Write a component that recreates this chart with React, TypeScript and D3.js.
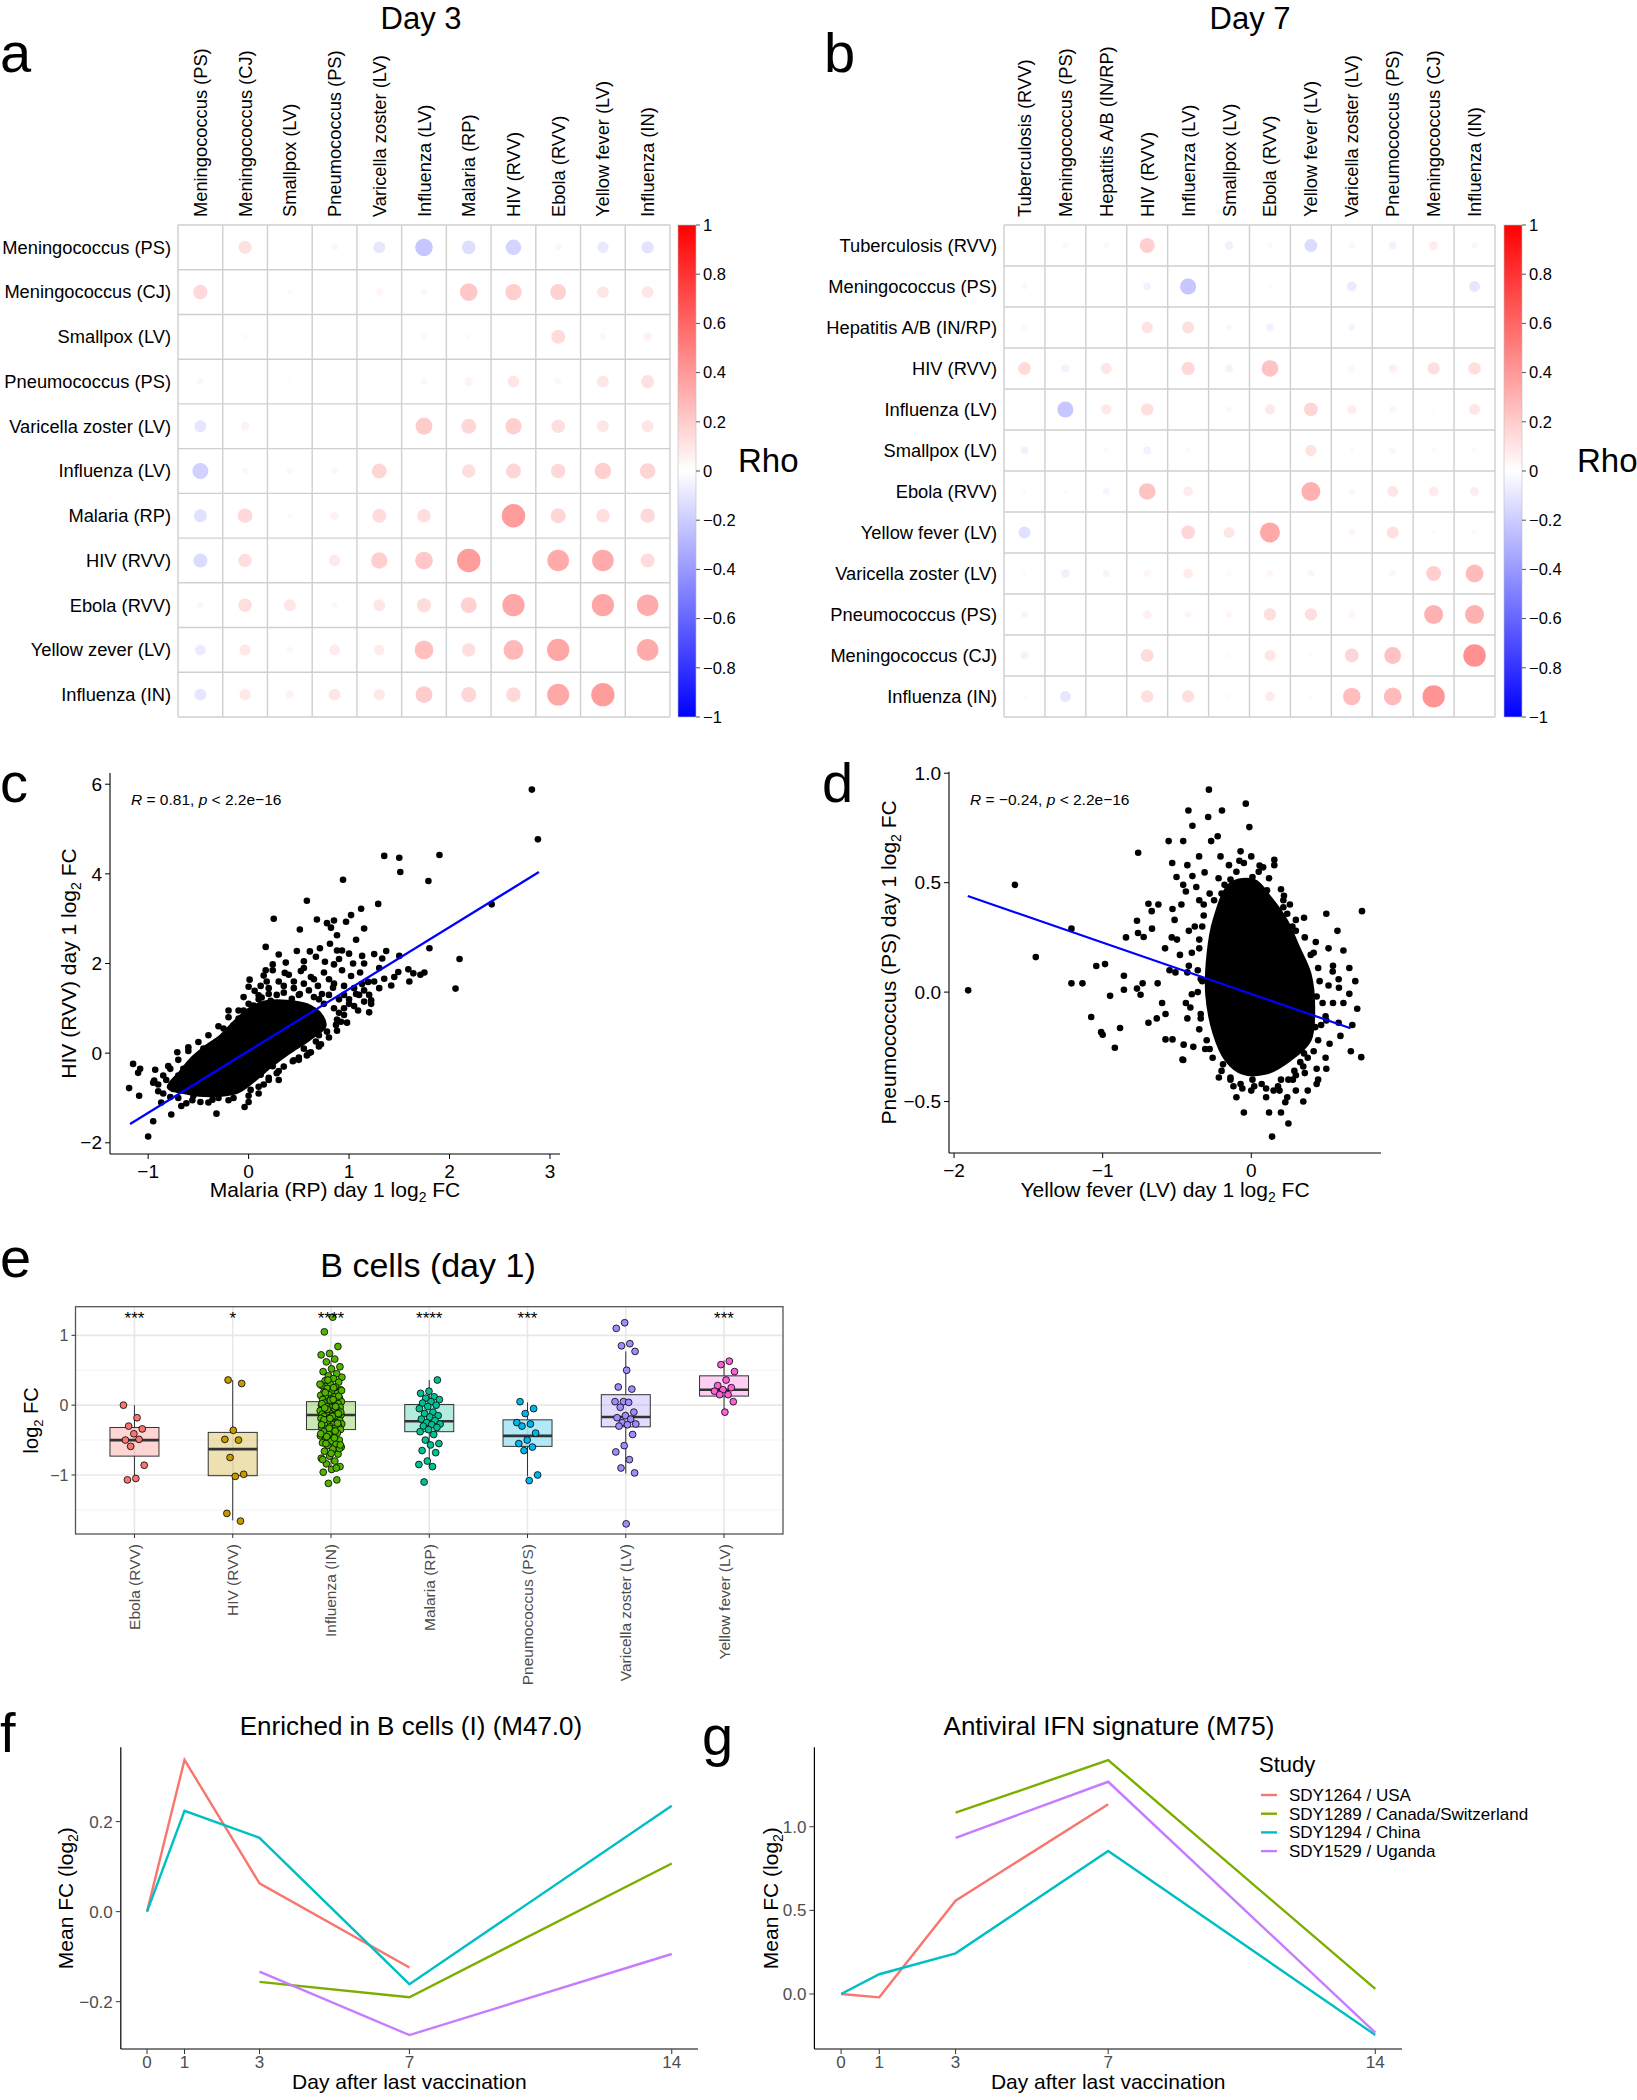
import React from "react";
import * as d3 from "d3";

const FONT = "'Liberation Sans', Arial, Helvetica, sans-serif";

// ---------------- Panel a / b : correlation matrices ----------------
const day3Labels = [
  "Meningococcus (PS)", "Meningococcus (CJ)", "Smallpox (LV)", "Pneumococcus (PS)",
  "Varicella zoster (LV)", "Influenza (LV)", "Malaria (RP)", "HIV (RVV)",
  "Ebola (RVV)", "Yellow fever (LV)", "Influenza (IN)",
];
const day3RowLabels = [
  "Meningococcus (PS)", "Meningococcus (CJ)", "Smallpox (LV)", "Pneumococcus (PS)",
  "Varicella zoster (LV)", "Influenza (LV)", "Malaria (RP)", "HIV (RVV)",
  "Ebola (RVV)", "Yellow zever (LV)", "Influenza (IN)",
];
const day3Rho = [
  [0.005, 0.12, 0.01, -0.03, -0.10, -0.22, -0.13, -0.17, -0.03, -0.09, -0.11],
  [0.15, 0.005, -0.02, 0.005, 0.04, 0.03, 0.22, 0.19, 0.18, 0.1, 0.1],
  [0.01, -0.02, 0.005, 0.01, 0.005, 0.03, -0.02, 0.005, 0.14, 0.03, 0.05],
  [-0.03, 0.005, -0.01, 0.005, 0.005, 0.03, 0.05, 0.1, 0.03, 0.1, 0.12],
  [-0.1, 0.05, 0.005, 0.005, 0.005, 0.2, 0.16, 0.19, 0.13, 0.1, 0.1],
  [-0.18, 0.03, 0.03, 0.03, 0.16, 0.005, 0.13, 0.16, 0.15, 0.19, 0.17],
  [-0.12, 0.15, -0.02, 0.05, 0.14, 0.13, 0.005, 0.39, 0.16, 0.13, 0.15],
  [-0.14, 0.13, 0.005, 0.09, 0.19, 0.22, 0.39, 0.005, 0.33, 0.33, 0.14],
  [-0.03, 0.13, 0.1, 0.03, 0.1, 0.14, 0.18, 0.35, 0.005, 0.35, 0.33],
  [-0.08, 0.09, 0.03, 0.08, 0.08, 0.25, 0.13, 0.28, 0.35, 0.005, 0.33],
  [-0.1, 0.09, 0.05, 0.1, 0.09, 0.2, 0.16, 0.15, 0.34, 0.385, 0.005],
];
const day7Labels = [
  "Tuberculosis (RVV)", "Meningococcus (PS)", "Hepatitis A/B (IN/RP)", "HIV (RVV)",
  "Influenza (LV)", "Smallpox (LV)", "Ebola (RVV)", "Yellow fever (LV)",
  "Varicella zoster (LV)", "Pneumococcus (PS)", "Meningococcus (CJ)", "Influenza (IN)",
];
const day7Rho = [
  [0.005, 0.03, 0.03, 0.19, 0.01, -0.06, 0.03, -0.14, 0.03, -0.05, 0.07, 0.03],
  [0.03, 0.005, 0.005, -0.05, -0.22, 0.01, -0.02, 0.01, -0.08, 0.005, 0.005, -0.1],
  [0.03, 0.005, 0.005, 0.11, 0.12, 0.03, -0.05, -0.01, -0.04, 0.005, -0.01, 0.01],
  [0.14, -0.05, 0.1, 0.005, 0.15, -0.05, 0.235, 0.01, 0.04, 0.06, 0.13, 0.13],
  [0.01, -0.22, 0.09, 0.13, 0.005, 0.03, 0.09, 0.16, 0.07, 0.04, -0.01, 0.1],
  [-0.05, 0.005, 0.02, -0.05, 0.02, 0.005, 0.01, 0.11, -0.02, 0.04, -0.02, -0.02],
  [0.02, -0.02, -0.04, 0.235, 0.08, 0.005, 0.005, 0.305, 0.03, 0.1, 0.08, 0.07],
  [-0.12, 0.005, 0.005, 0.005, 0.16, 0.1, 0.34, 0.005, 0.04, 0.12, 0.02, 0.02],
  [0.02, -0.06, -0.04, 0.04, 0.08, -0.02, 0.04, 0.04, 0.005, 0.04, 0.19, 0.27],
  [-0.04, 0.005, 0.005, 0.06, 0.04, 0.04, 0.13, 0.13, 0.04, 0.005, 0.305, 0.305],
  [0.06, 0.005, 0.005, 0.14, 0.01, -0.02, 0.1, 0.02, 0.16, 0.24, 0.005, 0.43],
  [0.02, -0.1, 0.005, 0.13, 0.13, -0.02, 0.08, 0.02, 0.26, 0.27, 0.42, 0.005],
];
const colorbarTicks = [1, 0.8, 0.6, 0.4, 0.2, 0, -0.2, -0.4, -0.6, -0.8, -1];

// ---------------- Panel c ----------------
const cXTicks = [-1, 0, 1, 2, 3];
const cYTicks = [-2, 0, 2, 4, 6];
const cFitX = [-1.18, 2.89];
const cFitY = [-1.58, 4.04];
const cCore: [number, number][] = [
  [-0.8, -0.76], [-0.68, -0.42], [-0.56, -0.1], [-0.42, 0.16], [-0.28, 0.38], [-0.15, 0.68],
  [0.0, 0.98], [0.16, 1.14], [0.38, 1.16], [0.58, 1.08], [0.72, 0.86], [0.76, 0.6],
  [0.6, 0.3], [0.4, 0.0], [0.22, -0.3], [0.04, -0.64], [-0.12, -0.88], [-0.38, -0.95], [-0.6, -0.9],
];
const cPoints: [number, number][] = [
  [2.82, 5.88], [2.88, 4.77], [1.35, 4.4], [1.5, 4.36], [1.51, 4.04], [1.9, 4.42], [1.79, 3.84],
  [0.94, 3.87], [2.42, 3.32], [0.58, 3.4], [1.29, 3.33], [0.25, 3.0], [1.12, 3.22], [1.02, 3.08],
  [0.68, 2.98], [0.78, 2.9], [0.97, 2.93], [0.85, 2.96], [1.15, 2.78], [0.51, 2.76], [0.82, 2.8],
  [0.88, 2.63], [1.07, 2.53], [0.17, 2.37], [0.81, 2.44], [1.8, 2.34], [1.5, 2.17], [2.1, 2.1],
  [1.37, 2.28], [0.48, 2.28], [0.61, 2.27], [0.71, 2.34], [0.88, 2.29], [0.93, 2.29], [1.0, 2.22],
  [1.13, 2.17], [1.25, 2.21], [1.33, 2.11], [1.59, 1.87], [1.49, 1.81], [1.64, 1.78], [1.71, 1.75],
  [1.75, 1.8], [1.35, 1.66], [1.42, 1.51], [2.06, 1.44], [0.37, 2.02], [0.52, 1.83], [0.67, 2.15],
  [0.76, 2.04], [0.85, 1.98], [1.04, 2.0], [1.15, 2.0], [0.24, 1.98], [0.17, 1.85], [0.36, 1.79],
  [0.93, 1.85], [1.11, 1.8], [1.19, 1.59], [1.22, 1.18], [1.22, 1.1], [1.09, 0.95], [1.2, 0.91],
  [0.98, 0.68], [0.87, 0.63], [0.78, 0.48], [0.67, 0.26], [0.62, 0.02], [0.44, -0.18], [0.24, -0.29],
  [0.12, -0.48], [0.02, -0.82], [-0.04, -1.2], [0.0, -1.09], [-0.32, -1.35], [-0.77, -1.37],
  [-0.95, -1.52], [-1.0, -1.86], [-1.19, -0.78], [-1.09, -0.95], [-1.15, -0.24], [-1.08, -0.35],
  [-1.1, -0.44], [-0.93, -0.37], [-0.94, -0.61], [-0.95, -0.66], [-0.87, -1.1], [-0.8, -0.29],
  [-0.71, 0.02], [-0.6, 0.13], [-0.67, -1.18], [-0.56, -1.05], [-0.48, -1.09], [-0.36, -1.04],
  [-0.24, 0.39], [-0.15, 0.62], [-0.1, 0.77], [-0.01, 0.77], [0.0, 1.48], [0.01, 1.64], [0.06, 1.39],
  [0.1, 1.29], [0.15, 1.73], [0.24, 1.85], [0.13, 1.24], [0.22, 1.17], [0.32, 1.1], [0.05, 1.06],
  [0.43, 1.21], [0.51, 1.32], [0.6, 1.4], [0.69, 1.5], [0.73, 1.32], [0.84, 1.46], [1.02, 1.72],
  [1.07, 1.32], [1.13, 1.54], [0.45, -0.16], [0.37, 0.08], [0.1, -0.37], [-0.1, -0.74], [-0.21, -0.82],
  [-0.82, -0.6], [-0.75, -0.8], [-0.7, -0.5], [-0.65, -0.35], [-0.55, -0.2], [-0.45, 0.1], [-0.35, 0.2],
  [-0.3, -1.0], [-0.15, -1.0], [0.1, -0.9], [0.15, -0.7], [0.3, -0.4], [0.5, -0.1], [0.55, 0.1],
  [0.7, 0.4], [0.9, 0.9], [1.0, 1.1], [1.1, 1.3], [0.9, 1.2], [-0.25, 0.55], [-0.05, 0.95], [0.2, 1.45],
  [0.35, 1.5], [0.45, 1.6], [0.55, 1.55], [0.62, 1.7], [0.8, 1.65], [0.95, 1.5], [-0.9, -0.85],
  [-0.78, -0.98], [-0.62, -1.12], [0.3, -0.6], [0.2, -0.55], [0.58, -0.05], [0.72, 0.2], [0.88, 0.75],
  [-0.9, -0.7], [-0.85, -0.9], [-0.7, -1.0], [-0.55, -0.95], [-0.4, -1.1], [-0.2, -1.05], [0.0, -0.95],
  [0.1, -0.75], [0.2, -0.6], [0.28, -0.45], [0.35, -0.3], [0.5, -0.15], [0.6, 0.0], [0.7, 0.15],
  [0.8, 0.35], [0.88, 0.5], [0.92, 0.7], [0.95, 0.85], [0.85, 1.0], [0.75, 1.1], [0.65, 1.25],
  [0.5, 1.3], [0.35, 1.35], [0.2, 1.32], [0.1, 1.2], [0.0, 1.1], [-0.1, 0.95], [-0.2, 0.8],
  [-0.3, 0.6], [-0.4, 0.4], [-0.5, 0.25], [-0.6, 0.05], [-0.7, -0.15], [-0.78, -0.35], [-0.85, -0.5],
  [0.3, 1.6], [0.4, 1.75], [0.55, 1.9], [0.65, 1.65], [0.75, 1.8], [0.85, 1.55], [0.95, 1.3],
  [1.05, 1.45], [1.15, 1.4], [1.2, 1.3], [1.3, 1.45], [1.25, 1.6], [0.45, 1.45], [0.28, 1.3],
  [0.12, 1.5], [0.7, 1.2], [0.8, 1.3], [1.0, 1.2], [1.05, 1.05], [0.95, 1.0], [1.15, 1.15],
  [-0.2, 0.95], [-0.05, 1.25], [0.18, 1.6], [0.3, 2.2], [0.55, 2.05], [0.9, 2.1], [1.3, 1.9],
  [1.45, 1.7], [1.6, 1.6],
];

// ---------------- Panel d ----------------
const dXTicks = [-2, -1, 0];
const dYTicks = [-0.5, 0.0, 0.5, 1.0];
const dFitX = [-1.908, 0.668];
const dFitY = [0.439, -0.165];
const dCore: [number, number][] = [
  [-0.138, 0.496], [0.02, 0.51], [0.13, 0.43], [0.235, 0.33], [0.315, 0.21], [0.395, 0.084],
  [0.42, -0.07], [0.395, -0.22], [0.26, -0.31], [0.1, -0.37], [-0.06, -0.37], [-0.17, -0.31],
  [-0.25, -0.19], [-0.3, -0.01], [-0.29, 0.18], [-0.25, 0.33],
];
const dPoints: [number, number][] = [
  [-1.905, 0.008], [-1.59, 0.49], [-1.45, 0.16], [-1.21, 0.29], [-1.21, 0.04], [-1.136, 0.04],
  [-1.077, -0.114], [-1.043, 0.119], [-0.984, 0.128], [-1.01, -0.183], [-1.0, -0.195], [-0.918, -0.254],
  [-0.95, -0.017], [-0.883, -0.164], [-0.857, 0.075], [-0.857, 0.011], [-0.843, 0.25], [-0.761, 0.637],
  [-0.762, 0.27], [-0.769, 0.326], [-0.724, 0.252], [-0.769, 0.016], [-0.745, -0.012], [-0.731, 0.04],
  [-0.692, 0.404], [-0.67, 0.37], [-0.625, 0.4], [-0.668, 0.29], [-0.692, -0.14], [-0.636, -0.12],
  [-0.63, 0.04], [-0.577, -0.1], [-0.577, -0.216], [-0.556, 0.69], [-0.458, 0.69], [-0.532, 0.59],
  [-0.53, 0.38], [-0.516, 0.33], [-0.535, 0.25], [-0.53, -0.216], [-0.463, -0.308], [-0.503, 0.526],
  [-0.458, 0.49], [-0.44, 0.46], [-0.423, 0.83], [-0.396, 0.76], [-0.396, 0.53], [-0.43, 0.58],
  [-0.351, 0.62], [-0.314, 0.547], [-0.29, 0.8], [-0.285, 0.925], [-0.27, 0.69], [-0.226, 0.712],
  [-0.197, 0.83], [-0.207, 0.62], [-0.14, 0.514], [-0.072, 0.643], [-0.037, 0.861], [-0.013, 0.754],
  [-0.05, 0.59], [0.056, 0.578], [0.008, 0.526], [0.155, 0.605], [0.155, 0.58], [0.106, 0.465],
  [0.14, 0.39], [0.216, 0.42], [0.216, 0.388], [0.242, 0.358], [0.277, 0.3], [0.355, 0.34],
  [0.434, 0.229], [0.505, 0.358], [0.62, 0.19], [0.66, 0.11], [0.745, 0.37], [0.548, 0.094],
  [0.588, 0.059], [0.59, 0.02], [0.66, -0.008], [0.713, -0.076], [0.74, -0.297], [0.67, -0.27],
  [0.588, -0.14], [0.505, -0.13], [0.527, -0.236], [0.505, -0.35], [0.44, -0.35], [0.44, -0.42],
  [0.38, -0.45], [0.3, -0.45], [0.28, -0.4], [0.229, -0.503], [0.242, -0.48], [0.19, -0.45],
  [0.14, -0.66], [0.07, -0.42], [0.008, -0.4], [-0.072, -0.42], [-0.14, -0.39], [-0.218, -0.39],
  [-0.19, -0.33], [-0.31, -0.26], [-0.39, -0.25], [-0.35, -0.17], [-0.458, -0.31], [-0.455, -0.24],
  [-0.43, -0.12], [-0.41, -0.07], [-0.4, -0.01], [-0.43, 0.09], [-0.4, 0.18], [-0.48, 0.17],
  [-0.51, 0.09], [-0.5, 0.24], [-0.35, 0.24], [-0.38, 0.3], [-0.35, 0.42], [-0.37, 0.48],
  [0.346, 0.084], [0.36, -0.01], [0.39, -0.08], [0.43, -0.16], [0.45, -0.22], [0.355, -0.28],
  [0.29, -0.36], [0.36, -0.37], [0.15, -0.45], [0.27, 0.16], [0.3, 0.16], [0.42, 0.18], [0.45, 0.11],
  [0.52, 0.03], [0.55, -0.05], [0.5, -0.11], [-0.33, 0.05], [-0.34, -0.1], [-0.32, 0.35], [-0.2, 0.45],
  [-0.1, 0.55], [0.05, 0.45], [0.0, -0.45], [-0.1, -0.48], [0.1, -0.48], [0.2, -0.4], [0.33, -0.32],
  [-0.32, 0.4], [-0.28, 0.45], [-0.22, 0.52], [-0.15, 0.58], [-0.08, 0.6], [0.0, 0.62], [0.08, 0.57],
  [0.12, 0.52], [0.2, 0.47], [0.26, 0.4], [0.3, 0.33], [0.36, 0.25], [0.4, 0.17], [0.46, 0.05],
  [0.48, -0.05], [0.47, -0.15], [0.42, -0.27], [0.35, -0.34], [0.25, -0.4], [0.18, -0.43], [0.1, -0.44],
  [0.02, -0.43], [-0.06, -0.44], [-0.14, -0.4], [-0.2, -0.36], [-0.26, -0.3], [-0.3, -0.22],
  [-0.34, -0.12], [-0.36, 0.0], [-0.36, 0.1], [-0.35, 0.2], [-0.33, 0.3], [-0.25, 0.42], [0.05, 0.55],
  [0.3, 0.28], [0.44, -0.02], [0.3, -0.38], [-0.12, -0.43], [-0.34, 0.06], [-0.28, -0.26], [0.38, -0.3],
  [0.22, 0.44], [-0.18, 0.49], [-0.42, 0.12], [-0.44, -0.05], [-0.42, 0.28], [-0.47, 0.4], [-0.55, 0.1],
  [-0.6, -0.05], [-0.58, 0.2], [0.52, 0.2], [0.55, 0.12], [0.6, -0.2], [0.5, -0.3], [0.45, -0.4],
  [0.12, -0.55], [-0.05, -0.55], [0.2, -0.55], [0.25, -0.6], [0.35, -0.5], [0.58, 0.28], [0.62, -0.05],
  [0.7, 0.05], [0.68, -0.15],
];

// ---------------- Panel e ----------------
const eGroups = [
  "Ebola (RVV)", "HIV (RVV)", "Influenza (IN)", "Malaria (RP)",
  "Pneumococcus (PS)", "Varicella zoster (LV)", "Yellow fever (LV)",
];
const eColors = ["#F8766D", "#C49A00", "#53B400", "#00C094", "#00B6EB", "#A58AFF", "#FB61D7"];
const eStars = ["***", "*", "****", "****", "***", "", "***"];
// [lower whisker, q1, median, q3, upper whisker]
const eBoxes = [
  [-1.07, -0.73, -0.5, -0.32, 0.0],
  [-1.65, -1.01, -0.63, -0.39, 0.36],
  [-0.97, -0.35, -0.14, 0.05, 0.64],
  [-0.87, -0.38, -0.23, 0.01, 0.36],
  [-1.02, -0.59, -0.44, -0.21, 0.04],
  [-0.98, -0.31, -0.17, 0.15, 0.77],
  [-0.1, 0.13, 0.22, 0.42, 0.64],
];
const eEbola = [0.0, -0.18, -0.3, -0.34, -0.41, -0.5, -0.49, -0.59, -0.86, -1.05, -1.07];
const eHIV = [0.36, 0.31, -0.36, -0.49, -0.5, -0.75, -0.99, -1.02, -1.55, -1.66];
const eInfluenza = [
  1.26, 1.05, 0.84, 0.74, 0.72, 0.66, 0.62, 0.55, 0.52, 0.48, 0.45, 0.42, 0.4, 0.38, 0.35, 0.33,
  0.3, 0.28, 0.26, 0.24, 0.22, 0.2, 0.19, 0.17, 0.15, 0.14, 0.12, 0.11, 0.1, 0.09, 0.08, 0.06, 0.05,
  0.05, 0.04, 0.03, 0.02, 0.01, 0.0, -0.01, -0.02, -0.03, -0.04, -0.05, -0.06, -0.07, -0.08, -0.09,
  -0.1, -0.11, -0.12, -0.13, -0.13, -0.14, -0.14, -0.15, -0.16, -0.17, -0.18, -0.19, -0.2, -0.21,
  -0.22, -0.23, -0.24, -0.25, -0.26, -0.27, -0.28, -0.29, -0.3, -0.31, -0.32, -0.33, -0.34, -0.35,
  -0.36, -0.38, -0.4, -0.42, -0.44, -0.46, -0.48, -0.5, -0.52, -0.54, -0.56, -0.58, -0.6, -0.63,
  -0.66, -0.7, -0.73, -0.76, -0.8, -0.84, -0.88, -0.92, -0.96, -1.07, -1.12, 0.3, 0.25, 0.18, 0.13,
  0.07, 0.02, -0.02, -0.06, -0.1, -0.16, -0.21, -0.26, -0.33, -0.41, -0.47, -0.55, -0.62, -0.69,
  -0.78, -0.9, 0.36, 0.21, 0.08, -0.04, -0.12, -0.19, -0.28, -0.37, -0.45, -0.57,
];
const eMalaria = [
  0.36, 0.2, 0.17, 0.12, 0.1, 0.08, 0.05, 0.03, 0.0, -0.02, -0.05, -0.1, -0.12, -0.15, -0.17, -0.2,
  -0.22, -0.25, -0.27, -0.28, -0.3, -0.32, -0.35, -0.38, -0.42, -0.5, -0.55, -0.57, -0.65, -0.68,
  -0.8, -0.85, -0.88, -1.1,
];
const ePneumo = [0.05, -0.05, -0.12, -0.25, -0.27, -0.3, -0.4, -0.5, -0.55, -0.6, -0.65, -1.0, -1.08];
const eVaricella = [
  1.18, 1.1, 0.88, 0.85, 0.77, 0.5, 0.26, 0.23, 0.05, 0.05, 0.04, -0.03, -0.1, -0.15, -0.18, -0.2,
  -0.25, -0.27, -0.28, -0.3, -0.42, -0.58, -0.67, -0.78, -0.9, -0.97, -1.7,
];
const eYellow = [0.63, 0.58, 0.48, 0.36, 0.28, 0.25, 0.22, 0.2, 0.15, 0.15, 0.05, -0.1];
const eValues = [eEbola, eHIV, eInfluenza, eMalaria, ePneumo, eVaricella, eYellow];
const eYTicks = [-1, 0, 1];
const eYMinor = [-1.5, -0.5, 0.5];

// ---------------- Panels f / g ----------------
const days = [0, 1, 3, 7, 14];
const studies = ["SDY1264 / USA", "SDY1289 / Canada/Switzerland", "SDY1294 / China", "SDY1529 / Uganda"];
const studyColors = ["#F8766D", "#7CAE00", "#00BFC4", "#C77CFF"];
const fSDY1264 = [0.0, 0.337, 0.063, -0.124, null];
const fSDY1289 = [null, null, -0.156, -0.19, 0.107];
const fSDY1294 = [0.0, 0.224, 0.164, -0.161, 0.235];
const fSDY1529 = [null, null, -0.133, -0.274, -0.094];
const gSDY1264 = [0.0, -0.02, 0.558, 1.135, null];
const gSDY1289 = [null, null, 1.084, 1.398, 0.03];
const gSDY1294 = [0.0, 0.118, 0.243, 0.855, -0.245];
const gSDY1529 = [null, null, 0.934, 1.269, -0.231];
const fYTicks = [-0.2, 0.0, 0.2];
const gYTicks = [0.0, 0.5, 1.0];

const fmt = (v: number, d = 0) => {
  const s = d > 0 ? v.toFixed(d) : String(v);
  return s.replace("-", "\u2212");
};

const rhoColor = d3.scaleLinear<string>().domain([-1, 0, 1]).range(["#0000FF", "#FFFFFF", "#FF0000"]);

function CorrPanel(props: {
  colLabels: string[]; rowLabels: string[]; rho: number[][];
  x0: number; x1: number; y0: number; y1: number; cbX: number; rhoX: number;
  title: string; titleX: number; letter: string; letterX: number; gid: string;
}) {
  const { colLabels, rowLabels, rho, x0, x1, y0, y1, cbX, rhoX, title, titleX, letter, letterX, gid } = props;
  const n = colLabels.length;
  const xs = d3.scaleBand<number>().domain(d3.range(n)).range([x0, x1]);
  const ys = d3.scaleBand<number>().domain(d3.range(rowLabels.length)).range([y0, y1]);
  const cell = xs.bandwidth();
  const rScale = (v: number) => Math.sqrt(Math.abs(v)) * 0.42 * cell;
  const cb = d3.scaleLinear().domain([-1, 1]).range([y1, y0]);
  return (
    <g>
      <text x={letterX} y={72} fontSize={56} fontFamily={FONT}>{letter}</text>
      <text x={titleX} y={29} fontSize={31} textAnchor="middle" fontFamily={FONT}>{title}</text>
      {colLabels.map((l, j) => (
        <text key={"c" + j} transform={`translate(${xs(j)! + cell / 2 + 6.5},${y0 - 8}) rotate(-90)`}
          fontSize={18.3} fontFamily={FONT}>{l}</text>
      ))}
      {rowLabels.map((l, i) => (
        <text key={"r" + i} x={x0 - 7} y={ys(i)! + cell / 2} dy="0.35em" textAnchor="end"
          fontSize={18.3} fontFamily={FONT}>{l}</text>
      ))}
      <rect x={x0} y={y0} width={x1 - x0} height={y1 - y0} fill="white" />
      {rho.map((row, i) => row.map((v, j) => (
        <circle key={`p${i}-${j}`} cx={xs(j)! + cell / 2} cy={ys(i)! + cell / 2} r={rScale(v)} fill={rhoColor(v)} />
      )))}
      {d3.range(n + 1).map((j) => (
        <line key={"gv" + j} x1={x0 + j * cell} x2={x0 + j * cell} y1={y0} y2={y1} stroke="#cfcfcf" strokeWidth={1.4} />
      ))}
      {d3.range(rowLabels.length + 1).map((i) => (
        <line key={"gh" + i} x1={x0} x2={x1} y1={y0 + i * ys.bandwidth()} y2={y0 + i * ys.bandwidth()} stroke="#cfcfcf" strokeWidth={1.4} />
      ))}
      <defs>
        <linearGradient id={gid} x1="0" y1="0" x2="0" y2="1">
          <stop offset="0%" stopColor="#FF0000" />
          <stop offset="50%" stopColor="#FFFFFF" />
          <stop offset="100%" stopColor="#0000FF" />
        </linearGradient>
      </defs>
      <rect x={cbX} y={y0} width={18} height={y1 - y0} fill={`url(#${gid})`} stroke="#bbb" strokeWidth={0.6} />
      {colorbarTicks.map((t) => (
        <g key={"t" + t}>
          <line x1={cbX + 18} x2={cbX + 22} y1={cb(t)} y2={cb(t)} stroke="#555" strokeWidth={1} />
          <text x={cbX + 25} y={cb(t)} dy="0.35em" fontSize={16.5} fontFamily={FONT}>{fmt(t)}</text>
        </g>
      ))}
      <text x={rhoX} y={472} fontSize={33} fontFamily={FONT}>Rho</text>
    </g>
  );
}

function ScatterPanel(props: {
  left: number; right: number; top: number; bottom: number;
  xDom: [number, number]; yDom: [number, number]; xTicks: number[]; yTicks: number[]; yDec: number;
  points: [number, number][]; core: [number, number][]; fitX: number[]; fitY: number[];
  xTitle: string; yTitle: string; yTitleX: number; annot: string; letter: string; letterX: number;
}) {
  const p = props;
  const x = d3.scaleLinear().domain(p.xDom).range([p.left, p.right]);
  const y = d3.scaleLinear().domain(p.yDom).range([p.bottom, p.top]);
  const area = d3.line<[number, number]>().x((d) => x(d[0])).y((d) => y(d[1])).curve(d3.curveCatmullRomClosed.alpha(0.5));
  const fit = d3.line<number>().x((d) => x(p.fitX[d])).y((d) => y(p.fitY[d]));
  const ycx = (p.top + p.bottom) / 2;
  return (
    <g fontFamily={FONT}>
      <text x={p.letterX} y={802} fontSize={56}>{p.letter}</text>
      <path d={area(p.core)!} fill="black" stroke="black" strokeWidth={3} strokeLinejoin="round" />
      {p.points.map((d, i) => (
        <circle key={i} cx={x(d[0])} cy={y(d[1])} r={3.3} fill="black" />
      ))}
      <path d={fit([0, 1])!} stroke="#0000FF" strokeWidth={2.2} fill="none" />
      <line x1={p.left} x2={p.left} y1={p.top} y2={p.bottom} stroke="black" strokeWidth={1.1} />
      <line x1={p.left} x2={p.right} y1={p.bottom} y2={p.bottom} stroke="black" strokeWidth={1.1} />
      {p.xTicks.map((t) => (
        <g key={"x" + t}>
          <line x1={x(t)} x2={x(t)} y1={p.bottom} y2={p.bottom + 5} stroke="black" />
          <text x={x(t)} y={p.bottom + 24} textAnchor="middle" fontSize={19}>{fmt(t)}</text>
        </g>
      ))}
      {p.yTicks.map((t) => (
        <g key={"y" + t}>
          <line x1={p.left - 5} x2={p.left} y1={y(t)} y2={y(t)} stroke="black" />
          <text x={p.left - 8} y={y(t)} dy="0.35em" textAnchor="end" fontSize={19}>{fmt(t, p.yDec)}</text>
        </g>
      ))}
      <text x={(p.left + p.right) / 2} y={1197} textAnchor="middle" fontSize={21}>
        {p.xTitle} log<tspan dy={5} fontSize={14}>2</tspan><tspan dy={-5}> FC</tspan>
      </text>
      <text transform={`translate(${p.yTitleX},${ycx}) rotate(-90)`} textAnchor="middle" fontSize={21}>
        {p.yTitle} log<tspan dy={5} fontSize={14}>2</tspan><tspan dy={-5}> FC</tspan>
      </text>
      <text x={p.left + 21} y={805} fontSize={15.5}>
        <tspan fontStyle="italic">R</tspan>{" = " + p.annot + ", "}<tspan fontStyle="italic">p</tspan>{" < 2.2e\u221216"}
      </text>
    </g>
  );
}

function BoxPanel() {
  const left = 75.5, right = 783, top = 1306.7, bottom = 1534;
  const x = d3.scalePoint<string>().domain(eGroups).range([left, right]).padding(0.6);
  const y = d3.scaleLinear().domain([-1.845, 1.41]).range([bottom, top]);
  const bw = 49;
  return (
    <g fontFamily={FONT}>
      <text x={0} y={1277} fontSize={56}>e</text>
      <text x={428} y={1277} fontSize={34} textAnchor="middle">B cells (day 1)</text>
      <rect x={left} y={top} width={right - left} height={bottom - top} fill="white" />
      {eYMinor.map((t) => (
        <line key={"mn" + t} x1={left} x2={right} y1={y(t)} y2={y(t)} stroke="#F2F2F2" strokeWidth={1} />
      ))}
      {eYTicks.map((t) => (
        <line key={"mj" + t} x1={left} x2={right} y1={y(t)} y2={y(t)} stroke="#E8E8E8" strokeWidth={1.6} />
      ))}
      {eGroups.map((g) => (
        <line key={"gx" + g} x1={x(g)} x2={x(g)} y1={top} y2={bottom} stroke="#E8E8E8" strokeWidth={1.6} />
      ))}
      {eGroups.map((g, gi) => {
        const [lo, q1, med, q3, hi] = eBoxes[gi];
        const cx = x(g)!;
        return (
          <g key={"b" + g}>
            <line x1={cx} x2={cx} y1={y(q3)} y2={y(hi)} stroke="#333" strokeWidth={1} />
            <line x1={cx} x2={cx} y1={y(q1)} y2={y(lo)} stroke="#333" strokeWidth={1} />
            <rect x={cx - bw / 2} y={y(q3)} width={bw} height={y(q1) - y(q3)} fill={eColors[gi]} fillOpacity={0.3} stroke="#333" strokeWidth={1} />
            <line x1={cx - bw / 2} x2={cx + bw / 2} y1={y(med)} y2={y(med)} stroke="#333" strokeWidth={2.6} />
          </g>
        );
      })}
      {eGroups.map((g, gi) => {
        const cx = x(g)!;
        return eValues[gi].map((v, i) => {
          const jit = (((i * 0.618034 + gi * 0.29) % 1) * 2 - 1) * 11;
          return <circle key={g + i} cx={cx + jit} cy={y(v)} r={3.4} fill={eColors[gi]} stroke="black" strokeWidth={0.8} />;
        });
      })}
      {eGroups.map((g, gi) => (
        <text key={"s" + g} x={x(g)} y={1324} textAnchor="middle" fontSize={17}>{eStars[gi]}</text>
      ))}
      <rect x={left} y={top} width={right - left} height={bottom - top} fill="none" stroke="#555" strokeWidth={1.3} />
      {eYTicks.map((t) => (
        <g key={"yt" + t}>
          <line x1={left - 4} x2={left} y1={y(t)} y2={y(t)} stroke="#333" />
          <text x={left - 7} y={y(t)} dy="0.35em" textAnchor="end" fontSize={16} fill="#4D4D4D">{fmt(t)}</text>
        </g>
      ))}
      {eGroups.map((g) => (
        <g key={"xt" + g}>
          <line x1={x(g)} x2={x(g)} y1={bottom} y2={bottom + 4} stroke="#333" />
          <text transform={`translate(${x(g)! + 5.5},${bottom + 10}) rotate(-90)`} textAnchor="end" fontSize={15.5} fill="#4D4D4D">{g}</text>
        </g>
      ))}
      <text transform={`translate(38,${(top + bottom) / 2}) rotate(-90)`} textAnchor="middle" fontSize={20}>
        log<tspan dy={5} fontSize={13}>2</tspan><tspan dy={-5}> FC</tspan>
      </text>
    </g>
  );
}

function LinePanel(props: {
  left: number; right: number; top: number; bottom: number; yDom: [number, number];
  yTicks: number[]; series: (number | null)[][]; title: string; titleX: number;
  letter: string; letterX: number; letterY: number; legend: boolean; yTitleX: number;
}) {
  const p = props;
  const x = d3.scaleLinear().domain([-0.7, 14.7]).range([p.left, p.right]);
  const y = d3.scaleLinear().domain(p.yDom).range([p.bottom, p.top]);
  const line = d3.line<number | null>()
    .defined((d) => d !== null)
    .x((_, i) => x(days[i]))
    .y((d) => y(d as number));
  return (
    <g fontFamily={FONT}>
      <text x={p.letterX} y={p.letterY} fontSize={56}>{p.letter}</text>
      <text x={p.titleX} y={1735} textAnchor="middle" fontSize={26}>{p.title}</text>
      {p.series.map((s, i) => (
        <path key={"l" + i} d={line(s)!} fill="none" stroke={studyColors[i]} strokeWidth={2.4} />
      ))}
      <line x1={p.left} x2={p.left} y1={p.top} y2={p.bottom} stroke="black" strokeWidth={1.2} />
      <line x1={p.left} x2={p.right} y1={p.bottom} y2={p.bottom} stroke="black" strokeWidth={1.2} />
      {days.map((t) => (
        <g key={"x" + t}>
          <line x1={x(t)} x2={x(t)} y1={p.bottom} y2={p.bottom + 5} stroke="#333" />
          <text x={x(t)} y={p.bottom + 19} textAnchor="middle" fontSize={17} fill="#4D4D4D">{t}</text>
        </g>
      ))}
      {p.yTicks.map((t) => (
        <g key={"y" + t}>
          <line x1={p.left - 5} x2={p.left} y1={y(t)} y2={y(t)} stroke="#333" />
          <text x={p.left - 8} y={y(t)} dy="0.35em" textAnchor="end" fontSize={17} fill="#4D4D4D">{fmt(t, 1)}</text>
        </g>
      ))}
      <text x={(p.left + p.right) / 2} y={2089} textAnchor="middle" fontSize={21}>Day after last vaccination</text>
      <text transform={`translate(${p.yTitleX},${(p.top + p.bottom) / 2}) rotate(-90)`} textAnchor="middle" fontSize={21}>
        Mean FC (log<tspan dy={5} fontSize={14}>2</tspan><tspan dy={-5}>)</tspan>
      </text>
      {p.legend && (
        <g>
          <text x={1259} y={1772} fontSize={22}>Study</text>
          {studies.map((s, i) => (
            <g key={"lg" + i}>
              <line x1={1261} x2={1277} y1={1795 + i * 18.7} y2={1795 + i * 18.7} stroke={studyColors[i]} strokeWidth={2.4} />
              <text x={1289} y={1795 + i * 18.7} dy="0.35em" fontSize={17}>{s}</text>
            </g>
          ))}
        </g>
      )}
    </g>
  );
}

export default function App() {
  return (
    <svg width={1637} height={2100} viewBox="0 0 1637 2100"
      style={{ position: "absolute", left: 0, top: 0, background: "white" }}>
      <rect x={0} y={0} width={1637} height={2100} fill="white" />
      <CorrPanel colLabels={day3Labels} rowLabels={day3RowLabels} rho={day3Rho}
        x0={178} x1={670} y0={225} y1={717} cbX={678} rhoX={738}
        title="Day 3" titleX={421} letter="a" letterX={0} gid="cbA" />
      <CorrPanel colLabels={day7Labels} rowLabels={day7Labels} rho={day7Rho}
        x0={1004} x1={1495} y0={225} y1={717} cbX={1504} rhoX={1577}
        title="Day 7" titleX={1250} letter="b" letterX={824} gid="cbB" />
      <ScatterPanel left={110} right={560} top={773} bottom={1154}
        xDom={[-1.38, 3.1]} yDom={[-2.25, 6.25]} xTicks={cXTicks} yTicks={cYTicks} yDec={0}
        points={cPoints} core={cCore} fitX={cFitX} fitY={cFitY}
        xTitle="Malaria (RP) day 1" yTitle="HIV (RVV) day 1" yTitleX={76} annot="0.81" letter="c" letterX={0} />
      <ScatterPanel left={949} right={1381} top={771.7} bottom={1153}
        xDom={[-2.034, 0.873]} yDom={[-0.735, 1.007]} xTicks={dXTicks} yTicks={dYTicks} yDec={1}
        points={dPoints} core={dCore} fitX={dFitX} fitY={dFitY}
        xTitle="Yellow fever (LV) day 1" yTitle="Pneumococcus (PS) day 1" yTitleX={896} annot={"\u22120.24"} letter="d" letterX={822} />
      <BoxPanel />
      <LinePanel left={120.8} right={698} top={1747.3} bottom={2049} yDom={[-0.305, 0.365]}
        yTicks={fYTicks} series={[fSDY1264, fSDY1289, fSDY1294, fSDY1529]}
        title="Enriched in B cells (I) (M47.0)" titleX={411} letter="f" letterX={0} letterY={1752}
        legend={false} yTitleX={73} />
      <LinePanel left={814.4} right={1402} top={1747.3} bottom={2049} yDom={[-0.329, 1.475]}
        yTicks={gYTicks} series={[gSDY1264, gSDY1289, gSDY1294, gSDY1529]}
        title="Antiviral IFN signature (M75)" titleX={1109} letter="g" letterX={702} letterY={1755}
        legend={true} yTitleX={778} />
    </svg>
  );
}
